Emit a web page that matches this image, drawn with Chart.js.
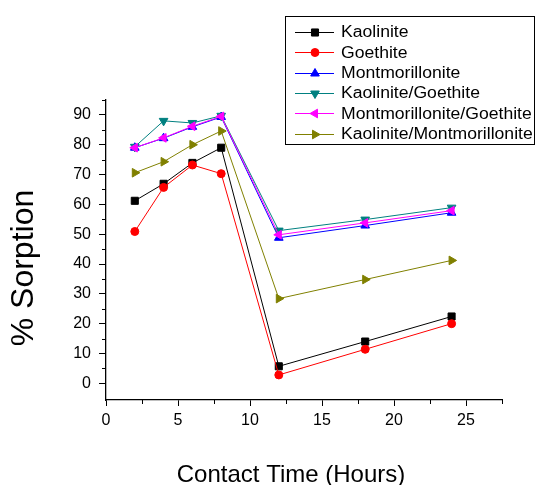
<!DOCTYPE html>
<html>
<head>
<meta charset="utf-8">
<script src="https://cdn.jsdelivr.net/npm/chart.js@4.4.0/dist/chart.umd.min.js"></script>
<style>
  html, body { margin: 0; padding: 0; background: #fff; }
  canvas { display: block; }
</style>
</head>
<body>
<canvas id="sorptionChart" width="536" height="485"></canvas>
<script>
// Contact time (hours) and % sorption per adsorbent
const hours = [2, 4, 6, 8, 12, 18, 24];
const kaolinite = [61.2, 66.9, 73.9, 79.0, 5.7, 14.0, 22.4];
const goethite = [50.9, 65.7, 73.2, 70.3, 2.8, 11.4, 20.0];
const montmorillonite = [79.0, 82.2, 86.0, 89.3, 48.8, 52.9, 57.2];
const kaoliniteGoethite = [79.3, 88.0, 87.3, 89.7, 51.2, 54.9, 58.9];
const montGoethite = [79.0, 82.3, 86.2, 89.5, 49.8, 53.8, 57.9];
const kaoliniteMont = [70.6, 74.3, 80.0, 84.6, 28.4, 34.8, 41.2];

const seriesNames = ['Kaolinite', 'Goethite', 'Montmorillonite', 'Kaolinite/Goethite',
  'Montmorillonite/Goethite', 'Kaolinite/Montmorillonite'];
const seriesValues = [kaolinite, goethite, montmorillonite, kaoliniteGoethite, montGoethite, kaoliniteMont];
const seriesColors = ['#000000', '#ff0000', '#0000ff', '#008080', '#ff00ff', '#808000'];
const seriesMarkers = ['rect', 'circle', 'triangle', 'triangle', 'triangle', 'triangle'];
const markerRotation = [0, 0, 0, 180, -90, 90];
const markerRadius = [5, 4, 5, 5, 5, 5];

const yMajorTicks = [0, 10, 20, 30, 40, 50, 60, 70, 80, 90];
const xMajorTicks = [0, 5, 10, 15, 20, 25];

function toPoints(values) {
  return hours.map((h, i) => ({ x: h, y: values[i] }));
}

const datasets = seriesNames.map((name, i) => ({
  label: name,
  data: toPoints(seriesValues[i]),
  borderColor: seriesColors[i],
  backgroundColor: seriesColors[i],
  borderWidth: 1,
  pointStyle: seriesMarkers[i],
  pointRotation: markerRotation[i],
  pointRadius: markerRadius[i],
  pointBorderWidth: 1,
  tension: 0,
  order: seriesNames.length - i
}));

// minor ticks, axis titles and the boxed legend
const extrasPlugin = {
  id: 'extras',
  afterDraw(chart) {
    const ctx = chart.ctx;
    const xs = chart.scales.x;
    const ys = chart.scales.y;
    const area = chart.chartArea;
    ctx.save();
    ctx.strokeStyle = '#000';
    ctx.lineWidth = 1;
    ctx.beginPath();
    for (let v = 5; v <= 95; v += 10) {
      const py = Math.round(ys.getPixelForValue(v)) + 0.5;
      ctx.moveTo(area.left - 4, py);
      ctx.lineTo(area.left, py);
    }
    for (let v = 2.5; v <= 27.5; v += 5) {
      const px = Math.round(xs.getPixelForValue(v)) + 0.5;
      ctx.moveTo(px, area.bottom);
      ctx.lineTo(px, area.bottom + 4);
    }
    ctx.stroke();

    // axis titles
    ctx.fillStyle = '#000';
    ctx.font = '24px "Liberation Sans", Arial, sans-serif';
    ctx.textAlign = 'center';
    ctx.textBaseline = 'alphabetic';
    ctx.fillText('Contact Time (Hours)', 291, 482);
    ctx.save();
    ctx.translate(33, 268);
    ctx.rotate(-Math.PI / 2);
    ctx.font = '32px "Liberation Sans", Arial, sans-serif';
    ctx.fillText('% Sorption', 0, 0);
    ctx.restore();

    // legend
    const bx = 285, by = 16, bw = 249, bh = 128;
    ctx.fillStyle = '#fff';
    ctx.fillRect(bx, by, bw, bh);
    ctx.strokeStyle = '#000';
    ctx.strokeRect(bx + 0.5, by + 0.5, bw, bh);
    ctx.font = '16px "Liberation Sans", Arial, sans-serif';
    ctx.textAlign = 'left';
    ctx.textBaseline = 'middle';
    chart.data.datasets.forEach((ds, i) => {
      const cy = 32 + i * 20.3;
      ctx.strokeStyle = ds.borderColor;
      ctx.lineWidth = 1;
      ctx.beginPath();
      ctx.moveTo(295, Math.round(cy) + 0.5);
      ctx.lineTo(334, Math.round(cy) + 0.5);
      ctx.stroke();
      ctx.fillStyle = ds.backgroundColor;
      Chart.helpers.drawPoint(ctx, {
        pointStyle: ds.pointStyle,
        rotation: ds.pointRotation,
        radius: ds.pointRadius,
        borderWidth: 1
      }, 315, Math.round(cy) + 0.5);
      ctx.fillStyle = '#000';
      ctx.save();
      ctx.translate(341, cy + 1);
      ctx.scale(1.1, 1);
      ctx.fillText(ds.label, 0, 0);
      ctx.restore();
    });
    ctx.restore();
  }
};

new Chart(document.getElementById('sorptionChart').getContext('2d'), {
  type: 'line',
  data: { datasets: datasets },
  options: {
    responsive: false,
    animation: false,
    devicePixelRatio: 1,
    layout: { padding: { top: 100, right: 34, left: 0, bottom: 0 } },
    plugins: { legend: { display: false }, tooltip: { enabled: false } },
    scales: {
      x: {
        type: 'linear',
        min: 0,
        max: 27.5,
        afterFit(scale) { scale.height = 85; },
        afterBuildTicks(scale) { scale.ticks = xMajorTicks.map(v => ({ value: v })); },
        ticks: { color: '#000', padding: 5, font: { size: 16, family: '"Liberation Sans", Arial' } },
        grid: { drawOnChartArea: false, tickLength: 6, tickColor: '#000', tickWidth: 1 },
        border: { color: '#000', width: 1.3 }
      },
      y: {
        min: -5.6,
        max: 95,
        afterFit(scale) { scale.width = 106; },
        afterBuildTicks(scale) { scale.ticks = yMajorTicks.map(v => ({ value: v })); },
        ticks: { color: '#000', padding: 8, font: { size: 16, family: '"Liberation Sans", Arial' } },
        grid: { drawOnChartArea: false, tickLength: 7, tickColor: '#000', tickWidth: 1 },
        border: { color: '#000', width: 1.3 }
      }
    }
  },
  plugins: [extrasPlugin]
});
</script>
</body>
</html>
